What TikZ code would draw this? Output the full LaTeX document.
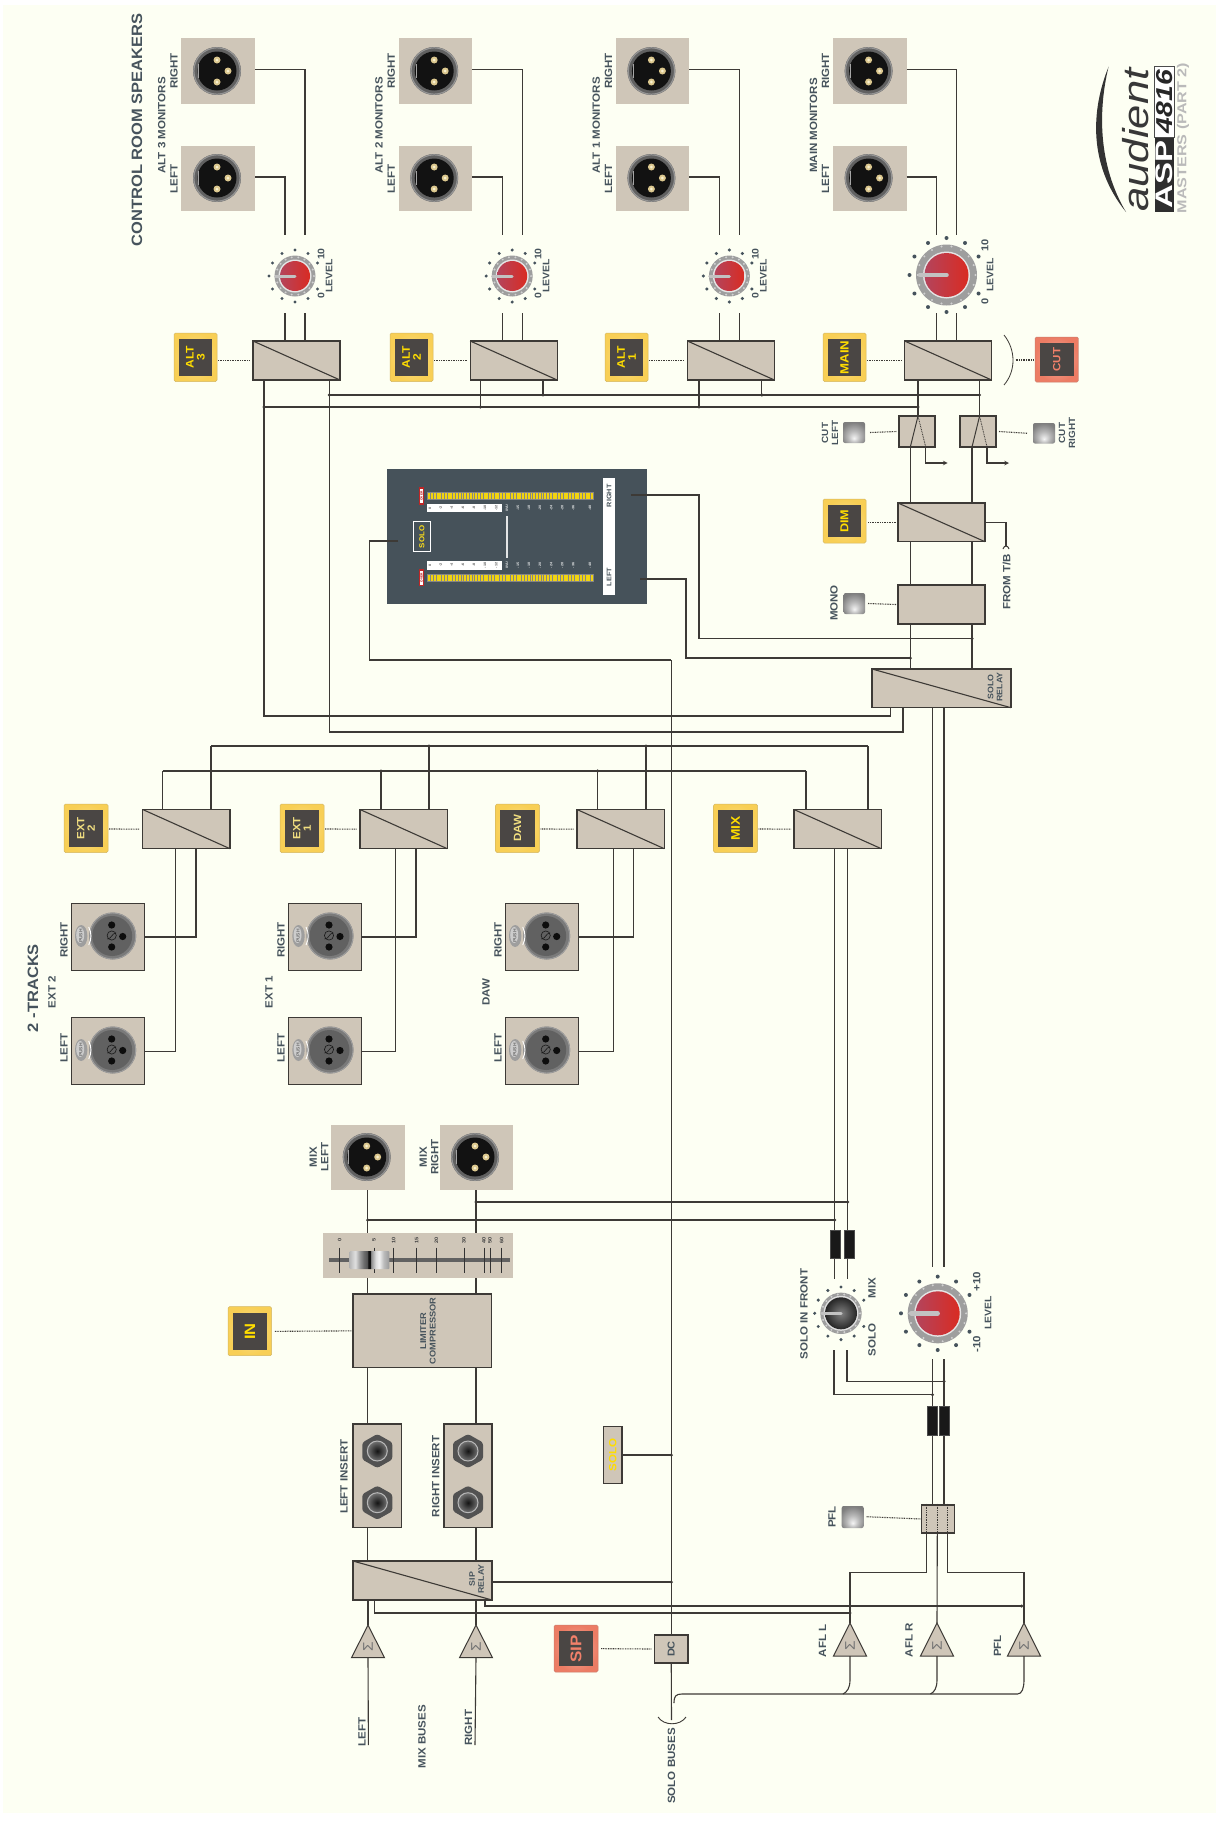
\documentclass[tikz,border=0pt]{standalone}
\usepackage{fontspec}
\usepackage{graphicx}
\setmainfont{Liberation Sans}[FakeStretch=1.1]
\usetikzlibrary{calc}
\definecolor{bgc}{HTML}{FDFFF3}
\definecolor{tan}{HTML}{CFC6B8}
\definecolor{wirec}{HTML}{3D3A36}
\definecolor{slate}{HTML}{46535C}
\definecolor{btny}{HTML}{F8CF55}
\definecolor{btns}{HTML}{EC7C64}
\definecolor{btnd}{HTML}{4A4644}
\definecolor{yel}{HTML}{FFDD00}
\definecolor{paley}{HTML}{F2DF80}
\definecolor{salm}{HTML}{F2806A}
\definecolor{panel}{HTML}{46525A}
\definecolor{HTMLpin}{HTML}{DCC88F}
\definecolor{HTMLpinb}{HTML}{F8F0D0}
\definecolor{knobl}{HTML}{B4445C}
\definecolor{knobm}{HTML}{CB3138}
\definecolor{knobr}{HTML}{D92B22}
\newcommand\fs[2]{\fontsize{#1}{#2}\selectfont}
\pgfdeclarehorizontalshading{faderh}{100bp}{rgb(0bp)=(.72,.72,.72);rgb(25bp)=(.72,.72,.72);rgb(32bp)=(.88,.88,.88);rgb(38bp)=(.6,.6,.6);rgb(43bp)=(.42,.42,.42);rgb(47bp)=(.33,.33,.33);rgb(48.5bp)=(.07,.07,.07);rgb(51bp)=(.07,.07,.07);rgb(52bp)=(.55,.55,.55);rgb(58bp)=(.87,.87,.87);rgb(62bp)=(.95,.95,.95);rgb(68bp)=(.73,.73,.73);rgb(75bp)=(.6,.6,.6);rgb(100bp)=(.6,.6,.6)}
\pgfdeclareradialshading{ledshade}{\pgfpoint{0bp}{-14bp}}{rgb(0bp)=(.96,.96,.96);rgb(14bp)=(.72,.72,.72);rgb(30bp)=(.5,.5,.5);rgb(50bp)=(.45,.45,.45)}
\tikzset{
  wire/.style={draw=wirec,line width=1.1pt},
  ctl/.style={draw=wirec,line width=1.1pt,dash pattern=on .9pt off .8pt},
  plate/.style={fill=tan,inner sep=0pt,outer sep=0pt},
  fplate/.style={fill=tan,draw=wirec,line width=1pt,inner sep=0pt,outer sep=0pt},
  boxn/.style={fill=tan,draw=wirec,line width=1.2pt,inner sep=0pt,outer sep=0pt},
  jdot/.style={circle,fill=wirec,inner sep=0pt,minimum size=3.4pt},
  lab/.style={rotate=90,text=slate,inner sep=0pt,align=center,font=\bfseries\fs{10.5}{11.5}},
  capb/.style={fill=black!90,draw=black!70,line width=.4pt,inner sep=0pt,outer sep=0pt}
}
% box from corners
\newcommand\bx[6]{\node[#1,minimum width={((#5)-(#3))*1pt},minimum height={((#6)-(#4))*1pt},anchor=north west] (#2) at ({#3},{#4}) {};}
\newcommand\rly[5]{\bx{boxn}{#1}{#2}{#3}{#4}{#5}\draw[draw=wirec,line width=1.1pt] (#1.north west) -- (#1.south east);}
% button: name x1 y1 x2 y2 outer inner-text-colour size text
\newcommand\btn[9]{\shade[inner color=#6!62!white,outer color=#6,rounded corners=1.5pt] ({#2},{#3}) rectangle ({#4},{#5});
  \draw[draw=#6!70!gray,line width=.5pt,rounded corners=1.5pt] ({#2},{#3}) rectangle ({#4},{#5});
  \bx{fill=btnd,inner sep=0pt,outer sep=0pt}{#1}{(#2)+4.8}{(#3)+6.3}{(#4)-4.8}{(#5)-6}
  \node[rotate=90,inner sep=0pt,align=center,text=#7,font=\bfseries\fs{#8}{#8}] (#1t) at (#1.center) {#9};}
\newcommand\ledb[5]{\shade[shading=ledshade,rounded corners=2pt] ({#2},{#3}) rectangle ({#4},{#5}); \coordinate (#1) at ({#4},{((#3)+(#5))/2}); \coordinate (#1w) at ({#2},{((#3)+(#5))/2});}
\newcommand\xlrM[2]{\begin{scope}[shift={({#1},{#2})}]
  \fill[black!62] (0,0) circle[radius=24];
  \draw[black!42,line width=1.2pt] (0,0) circle[radius=23.2];
  \fill[black!93] (0,0) circle[radius=19.5];
  \fill[black!35] (-18.6,-7) rectangle (-18,7);
  \foreach \px/\py in {0/-11,11/0,0/11}{\fill[HTMLpin] (\px,\py) circle[radius=3.5];\fill[HTMLpinb] (\px,\py) circle[radius=1.5];}
\end{scope}}
\newcommand\xlrF[2]{\begin{scope}[shift={({#1},{#2})}]
  \fill[black!52] (0,0) circle[radius=23.5];
  \draw[black!38,line width=.9pt] (0,0) circle[radius=23];
  \fill[black!62] (-.5,0) circle[radius=20];
  \foreach \px/\py in {-1/-11,10/.5,-1/11}{\fill[black!95] (\px,\py) circle[radius=3.6];}
  \draw[black!90,line width=.6pt] (-1,-.5) circle[radius=4.6];
  \draw[black!90,line width=.6pt] (-5.5,3) .. controls (-1,3) and (-1,-3) .. (3.4,-3);
  \draw[white,line width=.9pt] (-24,-9) .. controls (-21,-3) and (-21,3) .. (-24,9);
  \fill[black!38] (-31.5,0) ellipse[x radius=6.2,y radius=11];
  \fill[black!20] (-32.5,-1) ellipse[x radius=4,y radius=8];
  \node[rotate=90,text=black!55,inner sep=0pt,font=\bfseries\fs{4.5}{5}] at (-32,0) {PUSH};
\end{scope}}
\newcommand\jack[2]{\begin{scope}[shift={({#1},{#2})}]
  \fill[black!68,rounded corners=2.5pt] (0,-17)--(15,-8.5)--(15,8.5)--(0,17)--(-15,8.5)--(-15,-8.5)--cycle;
  \shade[inner color=black!92,outer color=black!55] (0,0) circle[radius=10];
  \draw[black!28,line width=1pt] (0,0) circle[radius=10];
\end{scope}}
% knob: x y dotR outerR innerR pointerwidth
\newcommand\knobdots[4]{\begin{scope}[shift={({#1},{#2})}]
  \foreach \ang in {30,60,...,330}{\fill[slate] (\ang:#3) circle[radius=#4];}
\end{scope}}
\newcommand\knobring[3]{\begin{scope}[shift={({#1},{#2})}]
  \fill[black!38] (0,0) circle[radius=#3];
  \foreach \ang in {0,20,...,340}{\fill[black!18] (\ang:#3-1.6) circle[radius=1.1];}
\end{scope}}
\newcommand\knobred[4]{\begin{scope}[shift={({#1},{#2})}]
  \fill[black!10] (0,0) circle[radius=#3+1.5];
  \shade[left color=knobl,middle color=knobm,right color=knobr] (0,0) circle[radius=#3];
  \draw[black!24,line width=#4,line cap=round] (0,0) -- (-#3-4.5,0);
\end{scope}}
\begin{document}
\begin{tikzpicture}[x=1pt,y=-1pt]
\useasboundingbox (0,0) rectangle (1216,1821);
\fill[bgc] (3,5) rectangle (1216,1812.5);

% ---- logo
\fill[black!80] (1108.6,66.7) .. controls (1091,110) and (1088,165) .. (1126,212) .. controls (1098,165) and (1098,110) .. (1108.6,66.7);
\node[rotate=90,inner sep=0pt,text=black!78] (logoa) at (1136,140) {\scalebox{1.1}[1]{\itshape\fs{36}{36}audient}};
\bx{fill=black!82,inner sep=0pt,outer sep=0pt}{logob}{1154.7}{137}{1174}{212}
\node[rotate=90,inner sep=0pt,text=white] (logoc) at (logob.center) {\scalebox{1.25}[1]{\bfseries\fs{24}{24}ASP}};
\bx{fill=white,draw=black!70,line width=.8pt,inner sep=0pt,outer sep=0pt}{logod}{1154.7}{66}{1174}{137}
\node[rotate=90,inner sep=0pt,text=black!85] (logoe) at (logod.center) {\scalebox{1.12}[1]{\bfseries\itshape\fs{23}{23}4816}};
\node[rotate=90,inner sep=0pt,text=black!27] (logof) at (1183,138) {\scalebox{1.13}[1]{\bfseries\fs{13}{13}MASTERS (PART 2)}};

% ---- titles
\node[lab,font=\bfseries\fs{15}{15}] (t1) at (137,130) {CONTROL ROOM SPEAKERS};
\node[lab,font=\bfseries\fs{15}{15}] (t2) at (33,988) {2 -TRACKS};

% ---- monitor buses (lower/upper) junctions
\coordinate (busLend) at (918,407);
\coordinate (busUend) at (979.5,395);

% ---- monitor channels
\foreach \n/\dx/\bl/\br/\bsx/\bsz/\blab/\mlab in {A3/0/264/329.3/174/11/{ALT\\3}/{ALT 3 MONITORS},A2/217.2/480.4/543/390/11/{ALT\\2}/{ALT 2 MONITORS},A1/434.4/699/761.8/605/11/{ALT\\1}/{ALT 1 MONITORS},MM/651.6/918/979.5/823/12/{MAIN}/{MAIN MONITORS}}{
  \bx{plate}{pl\n R}{181.4+\dx}{38}{255+\dx}{104}
  \bx{plate}{pl\n L}{181.4+\dx}{146}{255+\dx}{211}
  \xlrM{217+\dx}{71}
  \xlrM{217+\dx}{178}
  \node[lab] (lm\n) at ({161.8+\dx},125.5) {\mlab};
  \node[lab] (lr\n) at ({174+\dx},71) {RIGHT};
  \node[lab] (ll\n) at ({174+\dx},178.7) {LEFT};
  \rly{rl\n}{253+\dx}{341}{340+\dx}{380}
  \coordinate (ka\n) at ({285+\dx},235);
  \coordinate (kb\n) at ({305+\dx},235);
  \coordinate (kc\n) at ({285+\dx},313);
  \coordinate (kd\n) at ({305+\dx},313);
  \draw[wire] ([yshift=1.5pt]pl\n L.east) -| (ka\n);
  \draw[wire] ([yshift=1.5pt]pl\n R.east) -| (kb\n);
  \draw[wire] (kc\n) -- (rl\n.north -| kc\n);
  \draw[wire] (kd\n) -- (rl\n.north -| kd\n);
  \btn{bt\n}{\bsx}{333}{\bsx+43}{381.5}{btny}{yel}{\bsz}{\blab}
  \draw[ctl] ({\bsx+44},360.5) -- ([xshift=-3pt]rl\n.west);
  \coordinate (ul\n) at (\bl,407);
  \coordinate (ur\n) at (\br,395);
  \draw[wire] (rl\n.south -| ul\n) -- (ul\n);
  \draw[wire] (rl\n.south -| ur\n) -- (ur\n);
}
\draw[wire] (ulA3) -- (busLend);
\draw[wire] (urA3) -- (busUend);
\foreach \j in {ulA3,ulA2,ulA1,ulMM,urA3,urA2,urA1,urMM}{\node[jdot] at (\j) {};}

% ---- monitor knobs
\foreach \kx in {295,512.2,729.4}{
  \knobdots{\kx}{276}{26}{1.7}
  \knobring{\kx}{276}{20.5}
  \knobred{\kx}{276}{15}{3pt}
}
\knobdots{946.5}{275}{37}{2}
\knobring{946.5}{275}{30.5}
\knobred{946.5}{275}{22}{4.6pt}
\foreach \lid/\dx in {a/0,b/217.2,c/434.4}{
  \node[lab,font=\bfseries\fs{9.5}{10}] (lv\lid) at ({329+\dx},276) {LEVEL};
  \node[lab,font=\bfseries\fs{9.5}{10}] (lt\lid) at ({321+\dx},254) {10};
  \node[lab,font=\bfseries\fs{9.5}{10}] (lz\lid) at ({321+\dx},296) {0};
}
\node[lab,font=\bfseries\fs{9.5}{10}] (lvm) at (990,275) {LEVEL};
\node[lab,font=\bfseries\fs{10}{10}] (ltm) at (985,245) {10};
\node[lab,font=\bfseries\fs{10}{10}] (lzm) at (985,301) {0};

% ---- CUT
\coordinate (brka) at (1004,335);
\coordinate (brkb) at (1004,385);
\coordinate (brkm) at (1015.7,360);
\draw[draw=wirec,line width=.8pt] (brka) .. controls (1016,350) and (1016,371) .. (brkb);
\btn{btCUT}{1035}{337}{1078.4}{382}{btns}{salm}{10.5}{CUT}
\draw[ctl] (brkm) -- (1034,360);

% ---- cut switches
\bx{boxn}{cutl}{899}{416}{935}{447}
\bx{boxn}{cutr}{960}{416}{996}{447}
\coordinate (cla) at (918,416);  \coordinate (clb) at (910.3,447); \coordinate (clc) at (925.7,447);
\coordinate (cra) at (979.6,416);\coordinate (crb) at (972,447);   \coordinate (crc) at (987,447);
\draw[draw=wirec,line width=1pt] (cla) -- (clb);
\draw[draw=wirec,line width=1pt] (cra) -- (crb);
\draw[ctl,line width=.8pt] (cla) -- (clc);
\draw[ctl,line width=.8pt] (cra) -- (crc);
\foreach \j in {cla,clb,clc,cra,crb,crc}{\node[jdot,minimum size=2.6pt] at (\j) {};}
\draw[wire] (rlMM.south -| cla) -- (cla);
\draw[wire] (rlMM.south -| cra) -- (cra);
\coordinate (clo) at (947.7,463);
\coordinate (cro) at (1009,463);
\draw[wire,-stealth] (clc) |- (clo);
\draw[wire,-stealth] (crc) |- (cro);
\ledb{ledcl}{843}{422}{865}{443}
\ledb{ledcr}{1033}{423}{1055}{443.5}
\draw[ctl] (ledcl) ++(5,0) -- ([xshift=-2pt]cutl.west);
\draw[ctl] (cutr.east) ++(3,0) -- ([xshift=-6pt]ledcrw);
\node[lab,font=\bfseries\fs{9}{10}] (lcl) at (830,433) {CUT\\LEFT};
\node[lab,font=\bfseries\fs{9}{10}] (lcr) at (1067,433) {CUT\\RIGHT};

% ---- DIM, MONO, solo relay
\rly{dimr}{898}{503}{985}{541.7}
\bx{boxn}{mono}{898}{585}{985}{624}
\rly{srel}{872}{669}{1011}{707.7}
\btn{btDIM}{823}{499}{866}{543}{btny}{yel}{11.5}{DIM}
\draw[ctl] (btDIM.east |- dimr.west) ++(7,0) -- ([xshift=-2pt]dimr.west);
\ledb{ledmo}{843.7}{593}{865}{614}
\draw[ctl] (ledmo) ++(3,0) -- ([xshift=-2pt]mono.west);
\node[lab] (lmono) at (834,603) {MONO};
\node[lab,font=\bfseries\fs{8}{9}] (lsr) at (995,687) {SOLO\\RELAY};
\coordinate (fromtb) at (1006,546);
\draw[wire] (dimr.east) -| (fromtb);
\coordinate (ftba) at (1003,549);
\coordinate (ftbb) at (1009,549);
\draw[draw=wirec,line width=1pt] (ftba) .. controls (1004,545) and (1008,545) .. (ftbb);
\node[lab] (lftb) at (1006.7,582) {FROM T/B};
\foreach \wx in {910.3,972}{
  \coordinate (wc) at (\wx,460);
  \draw[wire] (cutl.south -| wc) -- (dimr.north -| wc);
  \draw[wire] (dimr.south -| wc) -- (mono.north -| wc);
  \draw[wire] (mono.south -| wc) -- (srel.north -| wc);
}

% ---- meter
\bx{fill=panel,inner sep=0pt,outer sep=0pt}{meter}{387}{469}{647}{604}
\bx{fill=white,inner sep=0pt,outer sep=0pt}{mwh}{603.3}{478}{614.7}{595}
\node[lab,text=panel,font=\bfseries\fs{6.6}{7}] (mr) at (609,495.7) {RIGHT};
\node[lab,text=panel,font=\bfseries\fs{6.6}{7}] (ml) at (609,577) {LEFT};
\foreach \my/\sy/\oy/\ty in {492/503.7/487.3/508,574/561/569/565.3}{
  \fill[black!48] (427.3,\my) rectangle (594,{\my+7.6});
  \foreach \i in {0,...,59}{\fill[yellow!80!orange!95!black] ({428.4+2.76*\i},{\my+1}) rectangle ({428.4+2.76*\i+1.9},{\my+6.6});}
  \fill[white] (427.3,\sy) rectangle (502.3,{\sy+8.7});
  \fill[red!70!black!85] (418.7,\oy) rectangle (424.3,{\oy+17.4});
  \fill[white] (419.7,{\oy+1.5}) rectangle (423.3,{\oy+15.9});
  \node[rotate=90,inner sep=0pt,text=red!70!black,font=\bfseries\fs{3}{3}] at (421.5,{\oy+8.7}) {OVER};
  \foreach \tx/\mval in {430/0,440.7/-2,451.7/-4,463/-6,474/-8,485/-10,496.3/-12}{
    \node[rotate=90,inner sep=0pt,text=black!65,font=\bfseries\fs{3.4}{4}] at (\tx,\ty) {\mval};}
  \foreach \tx/\mval in {507/0VU,518/-15,529/-18,540/-20,551.3/-24,562.3/-28,573.3/-36,590/-48}{
    \node[rotate=90,inner sep=0pt,text=white!85!panel,font=\bfseries\fs{3.4}{4}] at (\tx,\ty) {\mval};}
}
\fill[white!85!panel] (506.4,516) rectangle (507.8,558);
\bx{fill=panel,draw=white,line width=1pt,inner sep=0pt,outer sep=0pt}{msolo}{413.5}{521.8}{430.2}{551.8}
\node[lab,text=yel!90!white,font=\bfseries\fs{7.2}{8}] (msolot) at (msolo.center) {SOLO};
% meter wires
\coordinate (mra) at (631,495); \coordinate (mrb) at (699,638.7); \coordinate (mrc) at (972,638.7);
\coordinate (mla) at (640,579); \coordinate (mlb) at (686,658);   \coordinate (mlc) at (910.3,658);
\coordinate (msa) at (398,541); \coordinate (msb) at (369.5,660); \coordinate (msc) at (671.3,660);
\draw[wire] (mra) -| (mrb) -- (mrc);
\draw[wire] (mla) -| (mlb) -- (mlc);
\draw[wire] (msa) -| (msb) -- (msc);
\node[jdot] at (mrc) {};
\node[jdot] at (mlc) {};

% ---- solo relay outputs to monitor buses
\coordinate (soa) at (890.7,716);
\coordinate (sob) at (903,732);
\draw[wire] (srel.south -| soa) -- (soa) -- (soa -| ulA3) -- (ulA3);
\draw[wire] (srel.south -| sob) -- (sob) -- (sob -| urA3) -- (urA3);

% ---- source channels
\foreach \n/\rx/\btx/\ta/\tb/\ua/\ub/\blab/\bcol/\bsz in {E2/142.7/64/162.7/211/175.7/196/{EXT\\2}/paley/10.5,E1/360/280/381/429/395.5/416/{EXT\\1}/paley/10.5,DW/577/495.5/597.6/646/613.3/633.5/{DAW}/paley/10.5,MX/794/713.5/806/868/834.7/847.7/{MIX}/yel/12.5}{
  \rly{rs\n}{\rx}{809.5}{\rx+87.3}{848.7}
  \btn{bs\n}{\btx}{804}{\btx+44}{852.5}{btny}{\bcol}{\bsz}{\blab}
  \draw[ctl] ({\btx+45},829) -- ([xshift=-3pt]rs\n.west);
  \coordinate (ta\n) at (\ta,771);
  \coordinate (tb\n) at (\tb,746);
  \coordinate (ua\n) at (\ua,900);
  \coordinate (ub\n) at (\ub,900);
  \draw[wire] (rs\n.north -| ta\n) -- (ta\n);
  \draw[wire] (rs\n.north -| tb\n) -- (tb\n);
}
\draw[wire] (taE2) -- (taMX);
\draw[wire] (tbE2) -- (tbMX);
\foreach \j in {taE1,taDW,tbE1,tbDW}{\node[jdot] at (\j) {};}
% 2-track plates
\foreach \n/\px/\cx/\lbl in {E2/71/112.7/EXT 2,E1/288/330/EXT 1,DW/505/546.7/DAW}{
  \bx{fplate}{pf\n R}{\px}{903}{\px+73.5}{970}
  \bx{fplate}{pf\n L}{\px}{1017}{\px+73.5}{1084}
  \xlrF{\cx}{936}
  \xlrF{\cx}{1050}
  \node[lab] (pr\n) at ({\px-7},940) {RIGHT};
  \node[lab] (pl\n) at ({\px-7},1048) {LEFT};
  \node[lab] (pn\n) at ({\px-19},992) {\lbl};
  \coordinate (wr\n) at ({\px+73.5},937);
  \coordinate (wl\n) at ({\px+73.5},1051.7);
  \draw[wire] (wr\n) -| (rs\n.south -| ub\n);
  \draw[wire] (wl\n) -| (rs\n.south -| ua\n);
}

% ---- mix section
\bx{plate}{pmL}{331}{1125}{405}{1190}
\bx{plate}{pmR}{440}{1125}{513}{1190}
\xlrM{366.7}{1157}
\xlrM{475}{1157}
\node[lab] (lmL) at (319,1157) {MIX\\LEFT};
\node[lab] (lmR) at (429,1157) {MIX\\RIGHT};
\bx{plate}{fader}{323}{1233}{512.7}{1278}
\bx{boxn}{comp}{353}{1294}{491.7}{1367.7}
\node[lab,font=\bfseries\fs{8.4}{9.5}] (lcomp) at (428,1331) {LIMITER\\COMPRESSOR};
\btn{btIN}{228}{1306.7}{271.7}{1355.7}{btny}{yel}{15}{IN}
\draw[ctl] (btIN.east) ++(8,0) -- ([xshift=-1.5pt]comp.west);
\fill[black!62] (328.7,1257.6) rectangle (510,1262.4);
\foreach \tx/\tl in {339.7/0,374/5,393.7/10,416.7/15,436.3/20,464/30,484/40,490/50,501.7/60}{
  \draw[draw=black!80,line width=.9pt] (\tx,1247.7) -- (\tx,1272.7);
  \node[rotate=90,inner sep=0pt,text=black!75,font=\bfseries\fs{5}{5}] at (\tx,1240) {\tl};
}
\shade[shading=faderh,rounded corners=.8pt] (349.7,1251) rectangle (389.3,1269);
\bx{boxn}{insL}{353}{1424}{401.7}{1527.7}
\bx{boxn}{insR}{444}{1424}{492}{1527.7}
\jack{377.3}{1451}\jack{377.3}{1502.7}\jack{468}{1451}\jack{468}{1502.7}
\node[lab] (liL) at (344,1476.7) {LEFT INSERT};
\node[lab] (liR) at (435.7,1476.5) {RIGHT INSERT};
\rly{sipr}{353}{1561}{492}{1600}
\node[lab,font=\bfseries\fs{8}{9}] (lsip) at (476.7,1579) {SIP\\RELAY};
\coordinate (cmL) at (367.7,1300);
\coordinate (cmR) at (476,1300);
\foreach \c in {cmL,cmR}{
  \draw[wire] (pmL.south -| \c) -- (fader.north -| \c);
  \draw[wire] (fader.south -| \c) -- (comp.north -| \c);
  \draw[wire] (comp.south -| \c) -- (insL.north -| \c);
  \draw[wire] (insL.south -| \c) -- (sipr.north -| \c);
}

% ---- summing triangles
\foreach \n/\tx/\ay/\by in {tML/368/1625/1657.7,tMR/476/1625/1657.7,tAL/850/1623/1656,tAR/937/1623/1656,tPF/1024/1623/1656}{
  \coordinate (\n a) at (\tx,\ay);
  \coordinate (\n b) at (\tx,\by);
  \coordinate (\n c) at ({\tx-16.5},\by);
  \coordinate (\n d) at ({\tx+16.5},\by);
  \draw[fill=tan,draw=wirec,line width=1pt] (\n a) -- (\n c) -- (\n d) -- cycle;
  \node[rotate=90,inner sep=0pt,text=black!55,font=\fs{14}{14}] at (\tx,{\by-10.5}) {Σ};
}
\coordinate (inL) at (368.4,1745);
\coordinate (inR) at (475,1745);
\draw[wire] (tMLb) -- (inL);
\draw[wire] (tMRb) -- (inR);
\draw[wire] (sipr.south -| tMLa) -- (tMLa);
\draw[wire] (sipr.south -| tMRa) -- (tMRa);
\node[lab] (llL) at (362,1731.7) {LEFT};
\node[lab] (llR) at (468.4,1727.7) {RIGHT};
\node[lab] (lmb) at (422,1736.7) {MIX BUSES};
\node[lab] (laL) at (822.4,1640.7) {AFL L};
\node[lab] (laR) at (909,1640) {AFL R};
\node[lab] (lpf) at (997.4,1646) {PFL};

% ---- SIP button and DC
\btn{btSIP}{554}{1625}{598}{1672}{btns}{salm}{15.5}{SIP}
\bx{boxn}{dcb}{654.5}{1635}{688}{1663}
\node[lab,font=\bfseries\fs{10}{10}] (ldc) at (dcb.center) {DC};
\draw[ctl] (btSIP.east) ++(8,0) -- ([xshift=-3pt]dcb.west);

% ---- SOLO bus line
\bx{boxn}{solob}{603.7}{1426.7}{622}{1483.7}
\node[lab,text=yel,font=\bfseries\fs{10.5}{10.5}] (lsolob) at (solob.center) {SOLO};
\coordinate (jsolo) at (671.3,1455);
\coordinate (jsip) at (671.3,1582);
\draw[wire] (msc) -- (dcb.north -| msc);
\draw[wire] (solob.east |- jsolo) -- (jsolo);
\draw[wire] (sipr.east |- jsip) -- (jsip);
\node[jdot] at (jsolo) {};
\node[jdot] at (jsip) {};

% ---- sip relay outputs
\coordinate (soL) at (374.6,1613);
\coordinate (soR) at (485,1606);
\coordinate (jAL) at (850,1613);
\coordinate (jPF) at (1021.7,1606);
\draw[wire] (sipr.south -| soL) -- (soL) -- (jAL);
\draw[wire] (sipr.south -| soR) -- (soR) -- (jPF);
\node[jdot] at (jAL) {};
\node[jdot] at (jPF) {};

% ---- solo busses
\coordinate (dcend) at (671.5,1720);
\coordinate (bkl) at (658,1717);
\coordinate (bkr) at (686,1717);
\draw[wire] (dcb.south) -- (dcend);
\draw[draw=wirec,line width=.9pt] (bkl) .. controls (664,1726) and (680,1726) .. (bkr);
\coordinate (sbs) at (674,1703);
\coordinate (sbe) at (1017.5,1694);
\draw[wire] (sbs) .. controls (674,1696) and (676,1694) .. (682,1694) -- (sbe) .. controls (1022,1694) and (1024,1688) .. (1024,1680) -- (tPFb);
\foreach \n/\sx in {tAL/843,tAR/930.4}{
  \coordinate (sb\n) at (\sx,1694);
  \draw[wire] (\n b) -- ([yshift=14pt]sb\n -| \n b) .. controls +(0,8) and +(4,-2) .. (sb\n);
}
\node[lab] (lsb) at (671.5,1766) {SOLO BUSES};

% ---- PFL switch
\bx{boxn}{pflb}{921.7}{1505}{954.7}{1533}
\foreach \px in {926.7,937.3,947.7}{
  \draw[ctl,line width=.7pt] (\px,1505) -- (\px,1533);
  \node[jdot,minimum size=2.4pt] at (\px,1505) {};
  \node[jdot,minimum size=2.4pt] at (\px,1533) {};
}
\ledb{ledpf}{841.7}{1506}{863.7}{1528}
\draw[ctl] (ledpf) ++(3,-.3) -- (pflb.west);
\node[lab] (lpfl) at (832,1517) {PFL};
\coordinate (pfa) at (926.7,1572.7);
\coordinate (pfc) at (947.7,1572.7);
\coordinate (pfm) at (937.3,1533);
\draw[wire] (pfa |- pflb.south) -- (pfa) -- (pfa -| tALa) -- (tALa);
\draw[wire] (pfc |- pflb.south) -- (pfc) -- (pfc -| tPFa) -- (tPFa);
\draw[wire] (pfm) -- (tARa);

% ---- mix and master feeds
\coordinate (mixtR) at (476,1202);
\coordinate (mixtL) at (367.7,1220);
\coordinate (mixa) at (834.7,1220);
\coordinate (mixb) at (847.7,1202);
\coordinate (mixae) at (834.7,1279);
\coordinate (mixbe) at (847.7,1279);
\draw[wire] (rsMX.south -| mixa) -- (mixae);
\draw[wire] (rsMX.south -| mixb) -- (mixbe);
\draw[wire] (mixtR) -- (mixb);
\draw[wire] (mixtL) -- (mixa);
\foreach \j in {mixtR,mixtL,mixa,mixb}{\node[jdot] at (\j) {};}
\bx{capb}{cap1}{829.7}{1229.7}{839.7}{1258.3}
\bx{capb}{cap2}{843.7}{1229.7}{853.7}{1258.3}

% solo in front knob
\knobdots{841}{1313.3}{26.3}{1.7}
\knobring{841}{1313.3}{20.7}
\begin{scope}[shift={(841,1313.3)}]
  \fill[black!12] (0,0) circle[radius=17.5];
  \shade[inner color=black!50,outer color=black!85] (0,0) circle[radius=16];
  \draw[black!24,line width=3pt,line cap=round] (0,0) -- (-19,0);
\end{scope}
\node[lab] (lsif) at (804,1314) {SOLO IN FRONT};
\node[lab] (lsmix) at (872,1288) {MIX};
\node[lab] (lssolo) at (872,1340) {SOLO};

% level knob
\knobdots{937.7}{1313.3}{36.7}{2}
\knobring{937.7}{1313.3}{30}
\knobred{937.7}{1313.3}{22}{4.4pt}
\node[lab] (lpl) at (976.7,1281.7) {+10};
\node[lab,font=\bfseries\fs{9.5}{10}] (llv) at (988,1312.7) {LEVEL};
\node[lab] (lmi) at (976.7,1344) {-10};

% solo relay main pair -> level -> pfl
\coordinate (lva) at (932.5,1266.7);
\coordinate (lvb) at (944,1266.7);
\coordinate (lvc) at (932.5,1359);
\coordinate (lvd) at (944,1359);
\draw[wire] (srel.south -| lva) -- (lva);
\draw[wire] (srel.south -| lvb) -- (lvb);
\draw[wire] (lvc) -- (pflb.north -| lvc);
\draw[wire] (lvd) -- (pflb.north -| lvd);
% solo in front outputs
\coordinate (sfa) at (834,1350);
\coordinate (sfb) at (847,1350);
\coordinate (sfc) at (932.5,1394.7);
\coordinate (sfd) at (944,1381.3);
\draw[wire] (sfa) |- (sfc);
\draw[wire] (sfb) |- (sfd);
\node[jdot] at (sfc) {};
\node[jdot] at (sfd) {};
\bx{capb}{cap3}{927.3}{1406}{937.3}{1434.7}
\bx{capb}{cap4}{939.3}{1406}{949.3}{1434.7}
\end{tikzpicture}
\end{document}
